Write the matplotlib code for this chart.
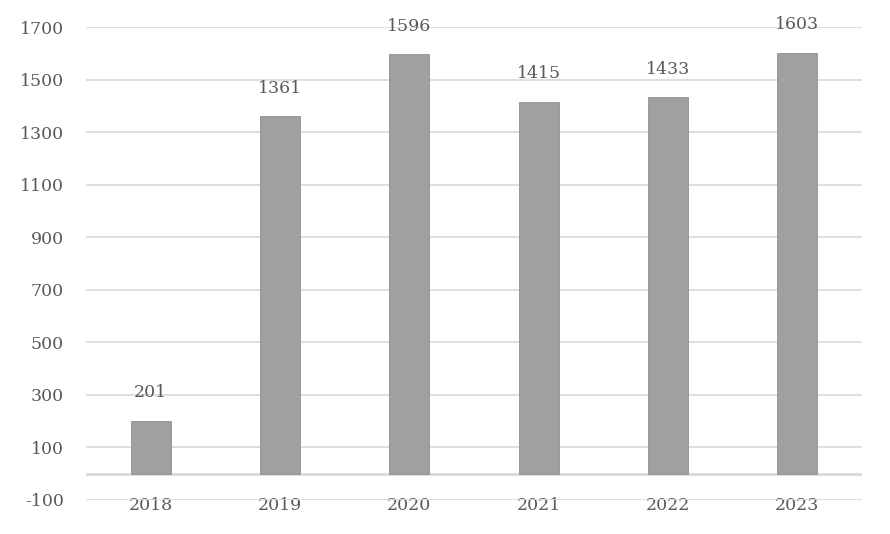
import matplotlib.pyplot as plt
import numpy as np

plt.rcParams['font.family'] = ['DejaVu Serif']
plt.rcParams['axes.unicode_minus'] = False

years = ['2018', '2019', '2020', '2021', '2022', '2023']
values = [201, 1361, 1596, 1415, 1433, 1603]
yticks = [-100, 100, 300, 500, 700, 900, 1100, 1300, 1500, 1700]

text_color = '#595959'
grid_color = '#d9d9d9'

fig = plt.figure(figsize=(8.9, 5.34), dpi=100)
ax = fig.add_axes([0.0966, 0.0637, 0.8719, 0.8857])

x = np.arange(len(years))
ax.bar(x, values, width=0.31, color='#a0a0a0', edgecolor='#8f8f8f', linewidth=0.6, zorder=3)

# 数据标签
for xi, v in zip(x, values):
    ax.annotate(str(v), xy=(xi, v), xytext=(0, 14), textcoords='offset points',
                ha='center', va='bottom', fontsize=12.5, color=text_color,
                annotation_clip=False)

ax.set_xlim(-0.5, len(years) - 0.5)
ax.set_ylim(-100, 1700)
ax.set_yticks(yticks)
ax.yaxis.grid(True, color=grid_color, linewidth=1.2, zorder=0)
ax.axhline(0, color=grid_color, linewidth=2.0, zorder=2)

ax.set_xticks(x)
ax.set_xticklabels(years)
ax.tick_params(axis='x', length=0, pad=-2.5, labelsize=12.5, labelcolor=text_color)
ax.tick_params(axis='y', length=0, pad=16, labelsize=12.5, labelcolor=text_color)

for s in ['top', 'right', 'left', 'bottom']:
    ax.spines[s].set_visible(False)

fig.savefig('out.png', dpi=100)
